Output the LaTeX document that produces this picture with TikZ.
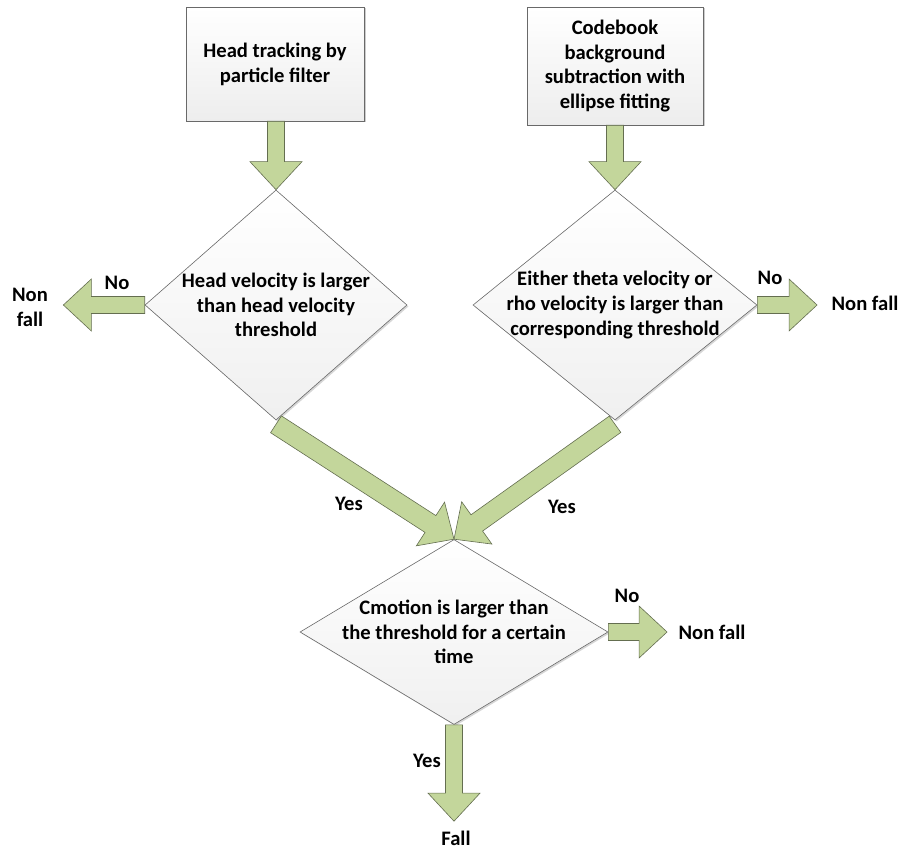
\documentclass[tikz,border=0pt]{standalone}
\usepackage{fontspec}
\setmainfont{Carlito}
\usetikzlibrary{shapes.geometric,calc,shadows}

\definecolor{arrowfill}{RGB}{195,214,155}
\definecolor{arrowline}{RGB}{100,110,80}
\definecolor{boxline}{RGB}{105,105,105}

% block arrow from #2 to #3, #1 = half width of the shaft
\newcommand{\fatarrow}[3][8.5]{%
\path[fatarr] let \p1=#2, \p2=#3,
  \n1={atan2(\y2-\y1,\x2-\x1)}, \n2={veclen(\x2-\x1,\y2-\y1)}, \n3={\n2-28pt}
  in [shift={(\p1)}, rotate=\n1]
  (0pt,-#1pt) -- (\n3,-#1pt) -- (\n3,-26pt) -- (\n2,0pt)
  -- (\n3,26pt) -- (\n3,#1pt) -- (0pt,#1pt) -- cycle;}

\tikzset{
  txt/.style={font=\fontsize{20.6}{24.8}\selectfont\bfseries, align=center},
  box/.style={txt, draw=boxline, line width=0.6pt, top color=white, bottom color=black!7,
    drop shadow={shadow xshift=1.5pt, shadow yshift=-1.5pt, fill=black!40, opacity=0.5}},
  dia/.style={diamond, draw=boxline, line width=0.6pt, inner sep=0pt, top color=white, bottom color=black!6,
    drop shadow={shadow xshift=1.5pt, shadow yshift=-1.5pt, fill=black!40, opacity=0.4}},
  fatarr/.style={fill=arrowfill, draw=arrowline, line width=0.6pt, line join=miter},
}

\begin{document}
\begin{tikzpicture}[x=1pt,y=-1pt]
\useasboundingbox (0,0) rectangle (900,853);

\node[box, minimum width=178pt, minimum height=114pt] (box1) at (275,64) {Head tracking by\\particle filter};
\node[box, minimum width=176pt, minimum height=118pt] (box2) at (615,66) {Codebook\\background\\subtraction with\\ellipse fitting};

\node[dia, minimum width=262pt, minimum height=230pt] (dia1) at (276,305)
  {};
\node[txt] (q1) at (dia1) {Head velocity is larger\\than head velocity\\threshold};

\node[dia, minimum width=284pt, minimum height=230pt] (dia2) at (615,305)
  {};
\node[txt] (q2) at (dia2) {Either theta velocity or\\rho velocity is larger than\\corresponding threshold};

\node[dia, minimum width=308pt, minimum height=185pt] (dia3) at (454,632)
  {};
\node[txt] (q3) at (dia3) {Cmotion is larger than\\the threshold for a certain\\time};

\node[txt] (nf1) at (30,307) {Non\\fall};
\node[txt] (nf2) at (865,303) {Non fall};
\node[txt] (nf3) at (712,632) {Non fall};
\node[txt] (fall) at (456,838) {Fall};

\node[txt] (no1) at (117,283) {No};
\node[txt] (no2) at (770,278) {No};
\node[txt] (no3) at (627,596) {No};
\node[txt] (yes1) at (349,504) {Yes};
\node[txt] (yes2) at (562,507) {Yes};
\node[txt] (yes3) at (427,761) {Yes};

\fatarrow{(dia1.north |- box1.south)}{(dia1.north)}
\fatarrow{(dia2.north |- box2.south)}{(dia2.north)}
\fatarrow{(dia1.west)}{($(dia1.west -| nf1.east)+(12,0)$)}
\fatarrow{(dia2.east)}{($(dia2.east -| nf2.west)-(11,0)$)}
\fatarrow[10]{($(dia1.south)+(0,4)$)}{(dia3.north)}
\fatarrow[10]{($(dia2.south)+(0,4)$)}{(dia3.north)}
\fatarrow{(dia3.east)}{($(dia3.east -| nf3.west)-(8,0)$)}
\fatarrow{(dia3.south)}{($(dia3.south |- fall.north)-(0,6)$)}

\end{tikzpicture}
\end{document}
